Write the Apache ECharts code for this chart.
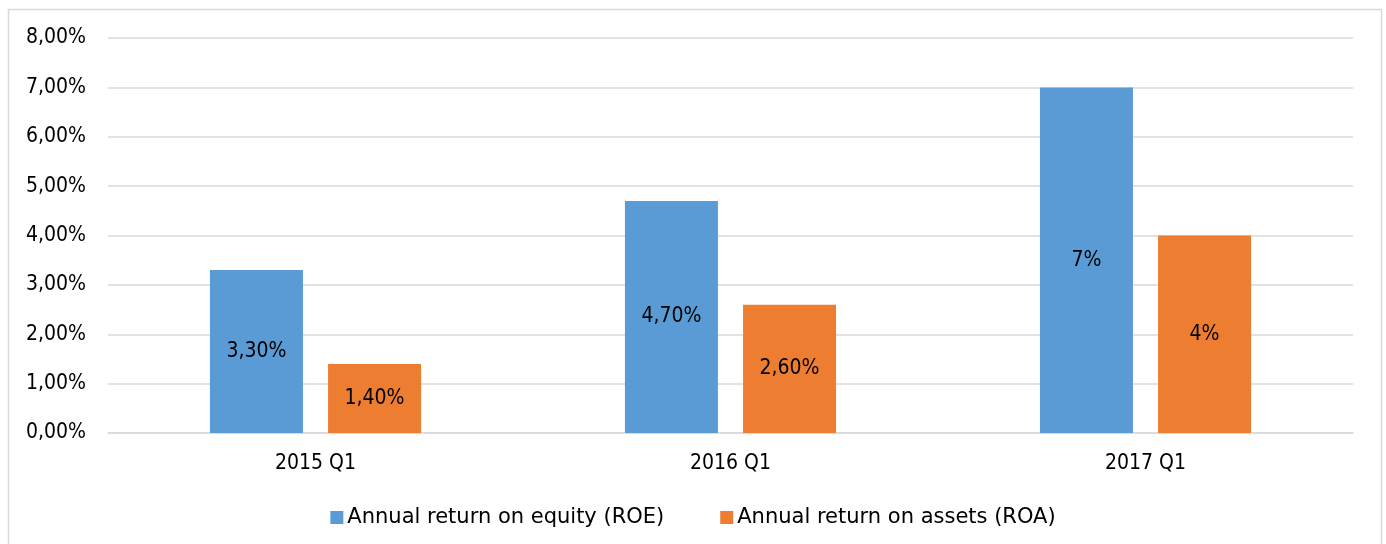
<!DOCTYPE html>
<html>
<head>
<meta charset="utf-8">
<script src="https://cdn.jsdelivr.net/npm/echarts@6/dist/echarts.min.js"></script>
<style>
  html, body { margin: 0; padding: 0; background: #fff; }
  #chart { width: 1386px; height: 544px; }
</style>
</head>
<body>
<div id="chart"></div>
<script>
const categories = ['2015 Q1', '2016 Q1', '2017 Q1']
const roeValues = [3.3, 4.7, 7]
const roaValues = [1.4, 2.6, 4]
const roeLabels = ['3,30%', '4,70%', '7%']
const roaLabels = ['1,40%', '2,60%', '4%']
const seriesNames = ['Annual return on equity (ROE)', 'Annual return on assets (ROA)']

const FONT = "'DejaVu Sans Condensed', 'DejaVu Sans', sans-serif"
const LEGEND_FONT = "'DejaVu Sans', sans-serif"
const gridColor = '#d9d9d9'

const mychart = echarts.init(document.getElementById('chart'))

const labelFor = (labels) => ({
    show: true,
    position: 'inside',
    color: '#000',
    fontFamily: FONT,
    fontSize: 21,
    formatter: (p) => labels[p.dataIndex]
})

mychart.setOption({
    animation: false,
    textStyle: { fontFamily: FONT },
    graphic: [{
        type: 'rect',
        shape: { x: 8.5, y: 9.5, width: 1373, height: 545 },
        style: { fill: 'none', stroke: '#d9d9d9', lineWidth: 1.5 },
        silent: true
    }],
    grid: { left: 108, right: 33, top: 38, bottom: 111 },
    legend: {
        top: 502,
        itemWidth: 13,
        itemHeight: 13,
        itemGap: 56,
        icon: 'rect',
        selectedMode: false,
        textStyle: { color: '#000', fontSize: 21, fontFamily: LEGEND_FONT, padding: [0, 0, 0, -1] },
        data: seriesNames
    },
    xAxis: {
        type: 'category',
        data: categories,
        axisTick: { show: false },
        axisLine: { lineStyle: { color: gridColor, width: 1.5 } },
        axisLabel: { color: '#000', fontSize: 21, fontFamily: FONT, margin: 20 }
    },
    yAxis: {
        type: 'value',
        min: 0,
        max: 8,
        interval: 1,
        axisLine: { show: false },
        axisTick: { show: false },
        splitLine: { lineStyle: { color: gridColor, width: 1.5 } },
        axisLabel: {
            color: '#000',
            fontSize: 21,
            fontFamily: FONT,
            margin: 22,
            formatter: (v) => v.toFixed(2).replace('.', ',') + '%'
        }
    },
    series: [
        {
            name: seriesNames[0],
            type: 'bar',
            data: roeValues,
            barWidth: 93,
            barGap: '27%',
            itemStyle: { color: '#5B9BD5' },
            label: labelFor(roeLabels)
        },
        {
            name: seriesNames[1],
            type: 'bar',
            data: roaValues,
            barWidth: 93,
            itemStyle: { color: '#ED7D31' },
            label: labelFor(roaLabels)
        }
    ]
})
</script>
</body>
</html>
